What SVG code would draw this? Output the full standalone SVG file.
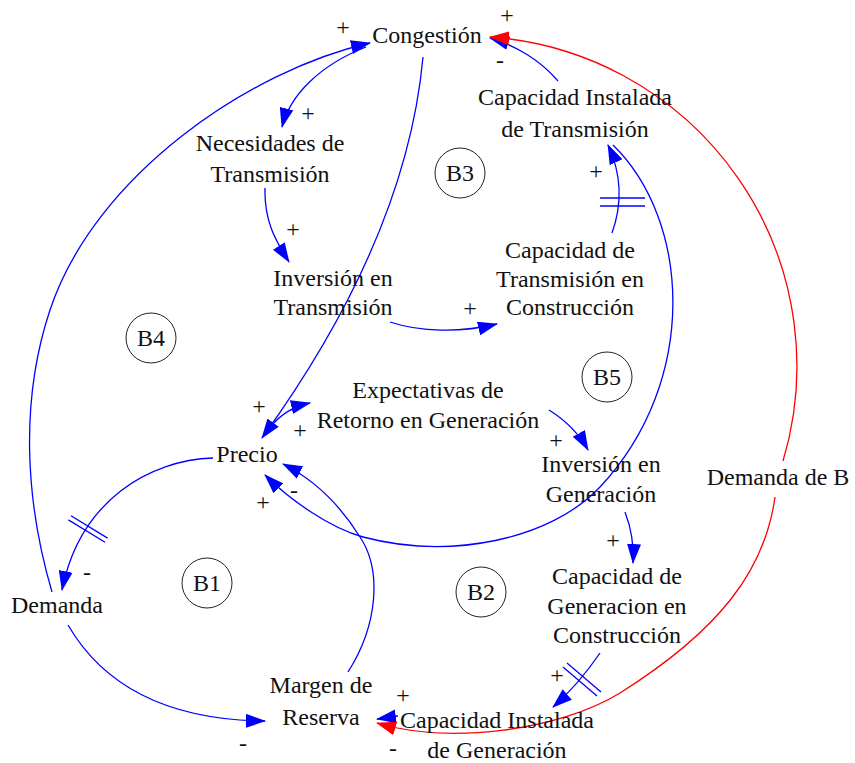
<svg xmlns="http://www.w3.org/2000/svg" width="855" height="763" viewBox="0 0 855 763">
<defs>
<style>
text{font-family:"Liberation Serif","Times New Roman",serif;font-size:24px;fill:#111;text-anchor:middle}
.b{fill:none;stroke:#0000ff;stroke-width:1.3}
.r{fill:none;stroke:#ff0000;stroke-width:1.3}
.ab{marker-end:url(#mb)}
.ar{marker-end:url(#mr)}
.loop{fill:none;stroke:#222;stroke-width:1}
.dl{stroke:#0000ff;stroke-width:1.3;fill:none}
</style>
<marker id="mb" viewBox="0 0 20 14" refX="19" refY="7" markerWidth="20" markerHeight="14" markerUnits="userSpaceOnUse" orient="auto"><path d="M0,0 L20,7 L0,14 z" fill="#0000ff"/></marker>
<marker id="mr" viewBox="0 0 20 14" refX="19" refY="7" markerWidth="20" markerHeight="14" markerUnits="userSpaceOnUse" orient="auto"><path d="M0,0 L20,7 L0,14 z" fill="#ff0000"/></marker>
</defs>
<rect width="855" height="763" fill="#fff"/>

<g id="connectors">
<path class="b ab" d="M366,47 C320,65 290,95 282,127"/>
<path class="b ab" d="M52,592 C25,500 20,400 50,310 C95,175 250,70 370,43"/>
<path class="b ab" d="M265,188 C264,220 275,240 289,262"/>
<path class="b ab" d="M390,322 C420,332 460,333 497,324"/>
<path class="b ab" d="M612,233 C622,205 622,175 608,145"/>
<line class="dl" x1="600" y1="198" x2="645" y2="198"/>
<line class="dl" x1="600" y1="206" x2="645" y2="206"/>
<path class="b ab" d="M558,81 C540,60 515,45 490,38"/>
<path class="b ab" d="M423,57 C410,200 340,330 262,438"/>
<path class="b ab" d="M272,425 C282,414 292,407 310,403"/>
<path class="b ab" d="M549,410 C565,420 578,432 588,450"/>
<path class="b ab" d="M625,512 C632,530 634,545 633,563"/>
<path class="b ab" d="M600,653 C585,675 570,692 553,707"/>
<line class="dl" x1="563" y1="667" x2="597" y2="696"/>
<line class="dl" x1="567" y1="663" x2="601" y2="692"/>
<path class="b ab" d="M348,672 C378,625 382,570 360,537 C340,505 315,480 283,464"/>
<path class="b ab" d="M213,458 C150,460 80,500 62,590"/>
<line class="dl" x1="71" y1="515.7" x2="107.6" y2="538.1"/>
<line class="dl" x1="68.4" y1="519.9" x2="105" y2="542.3"/>
<path class="b ab" d="M68,625 C100,680 160,720 265,721"/>
<path class="b ab" d="M613,145 C690,220 700,380 600,487 C550,540 450,560 363,537 C330,528 290,500 265,475"/>
<path class="b ab" d="M398,716 L377,719"/>
<path class="r ar" d="M775,497 C765,570 720,630 620,693 C560,730 450,745 377,723"/>
<path class="r ar" d="M783,461 A330,330 0 0 0 490,37"/>
</g>

<g id="n-congestion"><text x="427" y="43">Congestión</text></g>
<g id="n-cap-inst-trans"><text x="575" y="105">Capacidad Instalada</text><text x="575" y="137">de Transmisión</text></g>
<g id="n-necesidades"><text x="270" y="151">Necesidades de</text><text x="270" y="182">Transmisión</text></g>
<g id="n-inv-trans"><text x="333" y="286">Inversión en</text><text x="333" y="315">Transmisión</text></g>
<g id="n-cap-trans-constr"><text x="570" y="258">Capacidad de</text><text x="570" y="287">Transmisión en</text><text x="570" y="315">Construcción</text></g>
<g id="n-expectativas"><text x="428" y="398">Expectativas de</text><text x="428" y="428">Retorno en Generación</text></g>
<g id="n-precio"><text x="247" y="462">Precio</text></g>
<g id="n-inv-gen"><text x="601" y="472">Inversión en</text><text x="601" y="502">Generación</text></g>
<g id="n-cap-gen-constr"><text x="617" y="584">Capacidad de</text><text x="617" y="614">Generacion en</text><text x="617" y="643">Construcción</text></g>
<g id="n-cap-inst-gen"><text x="497" y="728">Capacidad Instalada</text><text x="497" y="758">de Generación</text></g>
<g id="n-margen"><text x="321" y="693">Margen de</text><text x="321" y="725">Reserva</text></g>
<g id="n-demanda"><text x="57" y="613">Demanda</text></g>
<g id="n-demanda-b"><text x="778" y="485">Demanda de B</text></g>

<g id="loops">
<circle class="loop" cx="460" cy="173" r="25"/><text x="460" y="181">B3</text>
<circle class="loop" cx="151" cy="338" r="25"/><text x="151" y="346">B4</text>
<circle class="loop" cx="607" cy="377" r="25"/><text x="607" y="385">B5</text>
<circle class="loop" cx="207" cy="583" r="25"/><text x="207" y="591">B1</text>
<circle class="loop" cx="481" cy="592" r="25"/><text x="481" y="600">B2</text>
</g>

<g id="polarities">
<text x="343" y="35">+</text>
<text x="308" y="121">+</text>
<text x="507" y="23">+</text>
<text x="500" y="68">-</text>
<text x="596" y="179">+</text>
<text x="293" y="237">+</text>
<text x="470" y="316">+</text>
<text x="259" y="414">+</text>
<text x="300" y="438">+</text>
<text x="556" y="448">+</text>
<text x="613" y="548">+</text>
<text x="557" y="683">+</text>
<text x="403" y="703">+</text>
<text x="393" y="756">-</text>
<text x="243" y="751">-</text>
<text x="87" y="580">-</text>
<text x="263" y="510">+</text>
<text x="294" y="498">-</text>
</g>
</svg>
